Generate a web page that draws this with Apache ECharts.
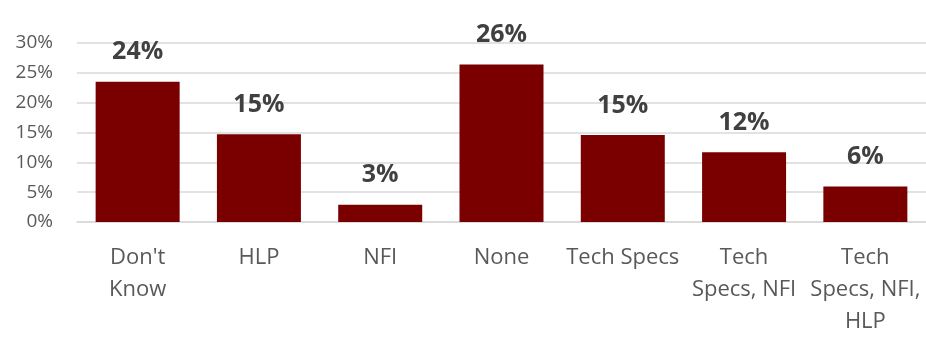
<!DOCTYPE html>
<html>
<head>
<meta charset="utf-8">
<script src="https://cdn.jsdelivr.net/npm/echarts@6/dist/echarts.min.js"></script>
<style>
  html, body { margin: 0; padding: 0; background: #ffffff; overflow: hidden; }
  #chart { width: 926px; height: 338px; }
</style>
</head>
<body>
<div id="chart"></div>
<script>
// Categories (line breaks give the wrapped axis labels)
var categories = ["Don't\nKnow", "HLP", "NFI", "None", "Tech Specs", "Tech\nSpecs, NFI", "Tech\nSpecs, NFI,\nHLP"];
// Share of responses, percent
var shares = [23.5, 14.7, 2.9, 26.4, 14.6, 11.7, 5.95];
// Value axis range and step, percent
var yMin = 0, yMax = 30, yStep = 5;

var chart = echarts.init(document.getElementById('chart'), null, { renderer: 'canvas', width: 926, height: 338 });

chart.setOption({
  animation: false,
  backgroundColor: '#ffffff',
  grid: { left: 77, width: 849, top: 43, height: 185, containLabel: false },
  xAxis: {
    type: 'category',
    data: categories,
    axisLine: { show: true, lineStyle: { color: '#d9d9d9', width: 1.5 } },
    axisTick: { show: false },
    axisLabel: {
      interval: 0,
      margin: 20,
      color: '#595959',
      fontFamily: 'Open Sans',
      fontSize: 22,
      lineHeight: 32
    }
  },
  yAxis: {
    type: 'value',
    min: yMin,
    max: yMax,
    interval: yStep,
    axisLine: { show: false },
    axisTick: { show: false },
    splitLine: { show: true, lineStyle: { color: '#d9d9d9', width: 1.5 } },
    axisLabel: {
      margin: 24,
      color: '#595959',
      fontFamily: 'Open Sans',
      fontSize: 19,
      formatter: function (v) { return v + '%'; }
    }
  },
  series: [{
    type: 'bar',
    data: shares,
    barWidth: 84,
    itemStyle: { color: '#7a0000' },
    label: {
      show: true,
      position: 'top',
      distance: 17,
      color: '#404040',
      fontFamily: 'Open Sans',
      fontWeight: 'bold',
      fontSize: 25,
      formatter: function (p) { return Math.round(p.value) + '%'; }
    }
  }]
});
</script>
</body>
</html>
